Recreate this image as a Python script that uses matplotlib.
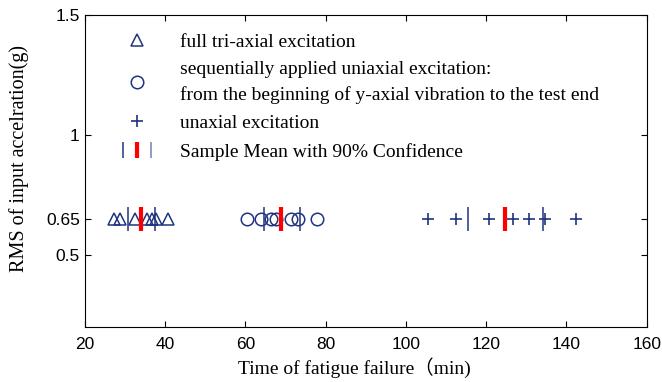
import numpy as np
import matplotlib.pyplot as plt
from matplotlib.lines import Line2D
from matplotlib.legend_handler import HandlerTuple

# fatigue failure times (min) at 0.65 g RMS
tri_times = [27.2, 28.7, 32.5, 35.5, 36.7, 37.7, 40.7]
seq_times = [60.4, 63.9, 66.4, 67.7, 71.4, 73.2, 77.9]
uni_times = [105.6, 112.5, 120.6, 126.8, 130.6, 134.6, 142.4]
level = 0.65

# sample means and 90% confidence bounds
means = [34.0, 68.8, 124.7]
ci_low = [30.8, 64.7, 115.4]
ci_high = [37.6, 73.7, 134.2]

labels = ["full tri-axial excitation",
          "sequentially applied uniaxial excitation:\nfrom the beginning of y-axial vibration to the test end",
          "unaxial excitation",
          "Sample Mean with 90% Confidence"]

navy = '#1f3480'
serif = ['Liberation Serif', 'Noto Sans CJK SC']

fig = plt.figure(figsize=(6.62, 3.82), dpi=100)
ax = fig.add_axes([0.128, 0.144, 0.849, 0.817])

ax.plot(tri_times, [level] * len(tri_times), '^', ms=8, mfc='none', mec=navy, mew=1.1)
ax.plot(seq_times, [level] * len(seq_times), 'o', ms=9, mfc='none', mec=navy, mew=1.1)
ax.plot(uni_times, [level] * len(uni_times), '+', ms=9, mec=navy, mew=1.2)

ax.plot(ci_low + ci_high, [level] * 6, '|', ms=17, mew=1.1, color=navy)
ax.plot(means, [level] * 3, '|', ms=17, mew=3, color='red')

ax.set_xlim(20, 160)
ax.set_ylim(0.2, 1.5)
ax.set_xticks(np.arange(20, 161, 20))
ax.set_yticks([0.5, 0.65, 1, 1.5])
ax.set_yticklabels(['0.5', '0.65', '1', '1.5'])
ax.tick_params(direction='in', top=True, right=True, length=4, labelsize=12.5)
ax.tick_params(axis='x', pad=7)
for t in ax.get_xticklabels() + ax.get_yticklabels():
    t.set_family('Liberation Sans')

ax.set_xlabel("Time of fatigue failure（min)", family=serif, fontsize=14)
ax.xaxis.set_label_coords(0.48, -0.098)
ax.set_ylabel("RMS of input accelration(g)", family=serif, fontsize=14.5)
ax.yaxis.set_label_coords(-0.1, 0.54)

h_tri = Line2D([], [], ls='none', marker='^', ms=8, mfc='none', mec=navy, mew=1.1)
h_seq = Line2D([], [], ls='none', marker='o', ms=9, mfc='none', mec=navy, mew=1.1)
h_uni = Line2D([], [], ls='none', marker='+', ms=9, mec=navy, mew=1.2)
b1 = Line2D([], [], ls='none', marker='|', ms=11, mew=1.1, color=navy)
b2 = Line2D([], [], ls='none', marker='|', ms=11, mew=3, color='red')
b3 = Line2D([], [], ls='none', marker='|', ms=11, mew=1.1, color='#7080b0')

leg = ax.legend([h_tri, h_seq, h_uni, (b1, b2, b3)], labels,
                handler_map={tuple: HandlerTuple(ndivide=None, pad=0.23)},
                loc='upper left', bbox_to_anchor=(0.059, 0.942), frameon=False,
                borderpad=0, borderaxespad=0,
                prop={'family': 'Liberation Serif', 'size': 14},
                handlelength=1.93, handletextpad=1.25, labelspacing=0.55)
leg.get_texts()[1].set_linespacing(1.55)

fig.savefig('out.png', dpi=100)
